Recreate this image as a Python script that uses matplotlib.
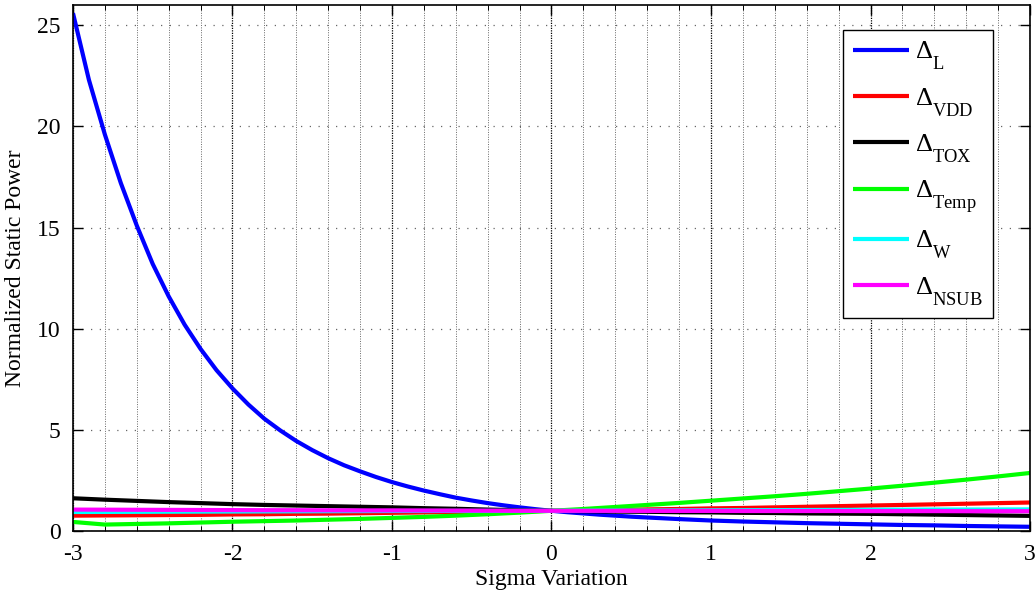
import matplotlib
matplotlib.use("Agg")
import matplotlib.pyplot as plt
from matplotlib.ticker import MultipleLocator
try:
    import matplotlib._mathtext as _mt
    _mt.FontConstantsBase.sub1 = 0.95
except Exception:
    pass

plt.rcParams['font.family'] = ['Liberation Serif', 'DejaVu Serif']
plt.rcParams['mathtext.fontset'] = 'custom'
plt.rcParams['mathtext.rm'] = 'Liberation Serif'
plt.rcParams['mathtext.it'] = 'Liberation Serif:italic'
plt.rcParams['axes.unicode_minus'] = False

sigma_fine = [round(-3.0 + 0.1 * i, 1) for i in range(61)]
delta_L = [25.6, 22.3, 19.6, 17.2, 15.1, 13.2, 11.6, 10.2, 9.0, 7.95,
           7.05, 6.25, 5.55, 4.97, 4.45, 4.0, 3.6, 3.25, 2.95, 2.67,
           2.42, 2.2, 2.0, 1.82, 1.65, 1.51, 1.38, 1.27, 1.17, 1.08,
           1.0, 0.93, 0.87, 0.81, 0.76, 0.71, 0.67, 0.63, 0.59, 0.555,
           0.52, 0.495, 0.47, 0.45, 0.43, 0.41, 0.39, 0.375, 0.36, 0.345,
           0.33, 0.315, 0.30, 0.29, 0.28, 0.265, 0.25, 0.24, 0.23, 0.22, 0.21]

sigma = [-3.0, -2.8, -2.6, -2.4, -2.2, -2.0, -1.8, -1.6, -1.4, -1.2, -1.0,
         -0.8, -0.6, -0.4, -0.2, 0.0, 0.2, 0.4, 0.6, 0.8, 1.0,
         1.2, 1.4, 1.6, 1.8, 2.0, 2.2, 2.4, 2.6, 2.8, 3.0]
delta_VDD = [0.76, 0.77, 0.78, 0.79, 0.80, 0.82, 0.83, 0.85, 0.86, 0.88, 0.90,
             0.92, 0.94, 0.96, 0.98, 1.0, 1.02, 1.04, 1.07, 1.09, 1.12,
             1.14, 1.17, 1.20, 1.23, 1.26, 1.29, 1.32, 1.35, 1.38, 1.41]
delta_TOX = [1.62, 1.55, 1.49, 1.43, 1.38, 1.33, 1.29, 1.26, 1.23, 1.20, 1.17,
             1.13, 1.10, 1.06, 1.03, 1.0, 0.98, 0.96, 0.95, 0.93, 0.92,
             0.90, 0.89, 0.87, 0.86, 0.85, 0.83, 0.81, 0.79, 0.77, 0.75]
delta_Temp = [0.45, 0.32, 0.35, 0.38, 0.42, 0.46, 0.49, 0.52, 0.56, 0.60, 0.65,
              0.70, 0.76, 0.83, 0.91, 1.0, 1.09, 1.19, 1.29, 1.39, 1.50,
              1.61, 1.72, 1.84, 1.97, 2.10, 2.24, 2.39, 2.54, 2.70, 2.87]
delta_W = [0.94, 0.945, 0.95, 0.955, 0.96, 0.965, 0.97, 0.975, 0.98, 0.985, 0.99,
           0.99, 0.995, 0.995, 1.0, 1.0, 1.005, 1.01, 1.015, 1.02, 1.025,
           1.03, 1.035, 1.04, 1.045, 1.05, 1.055, 1.06, 1.062, 1.066, 1.07]
delta_NSUB = [1.06, 1.055, 1.05, 1.045, 1.04, 1.035, 1.03, 1.03, 1.025, 1.02, 1.02,
              1.015, 1.01, 1.005, 1.0, 1.0, 1.0, 1.0, 0.995, 0.995, 0.995,
              0.99, 0.99, 0.99, 0.99, 0.985, 0.985, 0.985, 0.98, 0.98, 0.98]

series = [
    (sigma_fine, delta_L, '#0000ff', r'$\Delta_{\mathrm{L}}$'),
    (sigma, delta_VDD, '#ff0000', r'$\Delta_{\mathrm{VDD}}$'),
    (sigma, delta_TOX, '#000000', r'$\Delta_{\mathrm{TOX}}$'),
    (sigma, delta_Temp, '#00ff00', r'$\Delta_{\mathrm{Temp}}$'),
    (sigma, delta_W, '#00ffff', r'$\Delta_{\mathrm{W}}$'),
    (sigma, delta_NSUB, '#ff00ff', r'$\Delta_{\mathrm{NSUB}}$'),
]

fig = plt.figure(figsize=(10.35, 5.96), dpi=100)
ax = fig.add_axes([0.0705, 0.109, 0.9247, 0.8826])

for xs, vals, col, lab in series:
    ax.plot(xs, vals, color=col, lw=3.0, label=lab, solid_capstyle='butt')

ax.set_xlim(-3, 3)
ax.set_ylim(0, 26)
ax.xaxis.set_major_locator(MultipleLocator(1))
ax.xaxis.set_minor_locator(MultipleLocator(0.2))
ax.yaxis.set_major_locator(MultipleLocator(5))

ax.grid(True, which='major', axis='x', color='black', linestyle=(0, (1, 1)), lw=0.9)
ax.grid(True, which='minor', axis='x', color='#666666', linestyle=(0, (1, 1.5)), lw=0.7)
ax.grid(True, which='major', axis='y', color='#666666', linestyle=(0, (1, 6)), lw=0.9)

ax.tick_params(which='major', direction='in', length=7, width=1, top=True, right=True,
               labelsize=17, pad=9)
ax.tick_params(which='minor', direction='in', length=3.5, width=0.7, top=True, right=False)
for s in ax.spines.values():
    s.set_linewidth(1.2)

ax.set_xlabel('Sigma Variation', fontsize=17, labelpad=3)
ax.set_ylabel('Normalized Static Power', fontsize=17, labelpad=8)

leg = ax.legend(loc='upper right', bbox_to_anchor=(993 / 1035, 1 - 30 / 596),
                bbox_transform=fig.transFigure, borderaxespad=0.0,
                fontsize=19, frameon=True, fancybox=False,
                edgecolor='black', framealpha=1, handlelength=2.1, handletextpad=0.25,
                labelspacing=0.52, borderpad=0.38)
leg.get_frame().set_linewidth(1.0)

fig.savefig('out.png', dpi=100)
